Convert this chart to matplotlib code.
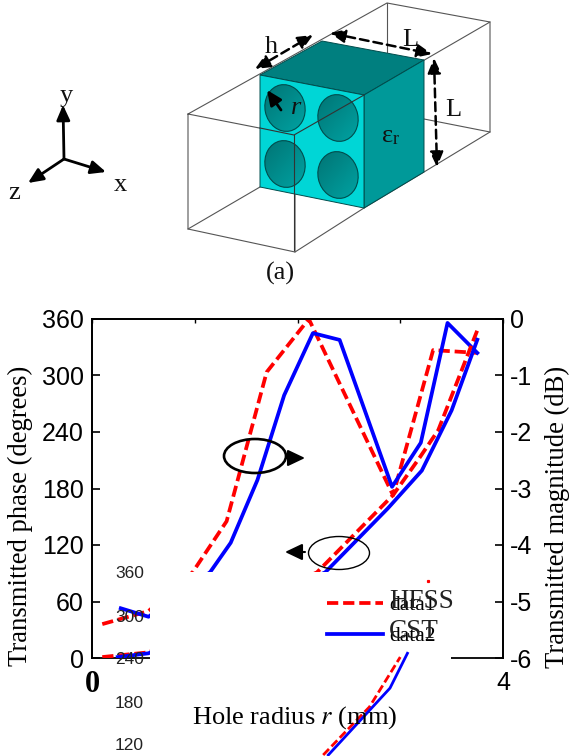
import numpy as np
import matplotlib
matplotlib.use('Agg')
import matplotlib.pyplot as plt
from matplotlib.colors import LinearSegmentedColormap
from matplotlib.patches import Ellipse, Polygon, Rectangle, FancyArrowPatch
from matplotlib.lines import Line2D

SERIF = 'Liberation Serif'
SANS = 'Liberation Sans'
W, H = 572, 756

# magnitude curves (hole radius mm, dB)
mag_hfss_r = [0.10, 0.55, 0.98, 1.31, 1.70, 2.11, 2.93, 3.32, 3.75]
mag_hfss_db = [-5.40, -5.17, -4.48, -3.58, -0.94, 0.0, -3.12, -0.55, -0.60]
mag_cst_r = [0.28, 0.55, 1.15, 1.35, 1.61, 1.87, 2.15, 2.41, 2.92, 3.20, 3.46, 3.75]
mag_cst_db = [-5.12, -5.27, -4.48, -3.96, -2.85, -1.35, -0.25, -0.37, -2.97, -2.19, -0.07, -0.60]

# phase curves (hole radius mm, degrees)
ph_hfss_r = [0.10, 0.55, 2.19, 2.93, 3.19, 3.37, 3.75]
ph_hfss_deg = [1, 6, 91, 173, 213, 242, 348]
ph_cst_r = [0.25, 0.55, 2.27, 2.88, 3.21, 3.50, 3.75]
ph_cst_deg = [1, 5, 91, 159, 199, 263, 338]

# curve tails of the next panel, showing through below the axis
tail_hfss_r = [2.25, 2.70, 3.00]
tail_hfss_deg = [-103, -52, 1]
tail_cst_r = [2.30, 2.90, 3.07]
tail_cst_deg = [-103, -32, 5]

phase_ticks = [0, 60, 120, 180, 240, 300, 360]
mag_ticks = [0, -1, -2, -3, -4, -5, -6]
mag_labels = ['0', '-1', '-2', '-3', '-4', '-5', '-6']
radius_ticks = [0, 1, 2, 3, 4]
radius_labels = ['0', '', '', '', '4']
stray_labels = ['360', '300', '240', '180', '120']
stray_y = [574, 617, 660, 704, 745]

# cube sketch, in picture pixels
cube_top = [(260, 75), (322, 41), (424, 60), (364, 95)]
cube_right = [(364, 95), (424, 60), (424, 172), (364, 208)]
cube_front = [(260, 75), (364, 95), (364, 208), (260, 187)]
holes = [(285, 108), (338, 118), (285, 164), (338, 175)]
box_lines = [
    [(188, 114), (387, 3), (490, 22), (295, 135), (188, 114), (188, 229), (295, 252), (295, 135)],
    [(188, 229), (260, 187)], [(295, 252), (364, 208)], [(364, 208), (424, 172), (490, 132), (490, 22)],
    [(387, 3), (387, 52)], [(424, 119), (490, 132)],
]
solid_arrows = [((64, 159), (63, 105)), ((64, 159), (28, 183)), ((64, 159), (106, 172)), ((281, 110), (267, 90))]
dashed_arrows = [((255, 69), (313, 35)), ((330, 33), (432, 54)), ((434, 58), (437, 167))]
sketch_text = [('y', 66, 96, 'normal'), ('x', 120, 185, 'normal'), ('z', 14, 193, 'normal'), ('(a)', 280, 273, 'normal'),
               ('h', 271, 47, 'normal'), ('L', 410, 40, 'normal'), ('L', 453, 110, 'normal'), ('r', 296, 108, 'italic')]

fig = plt.figure(figsize=(W / 100, H / 100), dpi=100)
ax2 = fig.add_axes([92 / W, 1 - 658 / H, 411 / W, 339 / H], zorder=1)
ax1 = fig.add_axes([92 / W, 1 - 658 / H, 411 / W, 339 / H], zorder=2)
ax1.patch.set_visible(False)

dash = (0, (3, 1.3))
ax2.plot(mag_hfss_r, mag_hfss_db, color='#ff0000', lw=2.7, ls=dash, zorder=3)
ax2.plot(mag_cst_r, mag_cst_db, color='#0000ff', lw=2.7, zorder=3)
ax1.plot(ph_hfss_r, ph_hfss_deg, color='#ff0000', lw=2.7, ls=dash, zorder=3)
ax1.plot(ph_cst_r, ph_cst_deg, color='#0000ff', lw=2.7, zorder=3)

# white patch hiding the middle of the plot, as in the original
ax1.add_patch(Rectangle((0.56, -4), 2.93, 95, fc='white', ec='none', zorder=5, clip_on=False))
ax1.plot(tail_hfss_r, tail_hfss_deg, color='#ff0000', lw=2, ls=dash, zorder=6, clip_on=False)
ax1.plot(tail_cst_r, tail_cst_deg, color='#0000ff', lw=2, zorder=6, clip_on=False)
ax1.plot([3.27], [82], 's', color='#ff0000', ms=1.3, zorder=6)

ax1.set_xlim(0, 4)
ax1.set_ylim(0, 360)
ax2.set_xlim(0, 4)
ax2.set_ylim(-6, 0)
ax1.set_yticks(phase_ticks)
ax2.yaxis.tick_right()
ax2.yaxis.set_label_position('right')
ax2.set_yticks(mag_ticks, mag_labels)
ax1.set_xticks(radius_ticks, radius_labels)
ax2.set_xticks([])
ax1.tick_params(axis='y', direction='in', length=6, width=1.2, labelsize=18, pad=6, labelfontfamily=SANS)
ax2.tick_params(axis='y', direction='in', length=6, width=1.2, labelsize=18, pad=5, labelfontfamily=SANS)
ax1.tick_params(axis='x', direction='in', top=True, bottom=False, length=3, width=1, pad=9)
labs = ax1.get_xticklabels()
labs[0].set(family=SERIF, fontweight='bold', fontsize=22)
labs[4].set(family=SANS, fontsize=18)
for a in (ax1, ax2):
    for s in a.spines.values():
        s.set_linewidth(1.3)
ax2.spines['bottom'].set_visible(False)

ax1.set_ylabel('Transmitted phase (degrees)', family=SERIF, fontsize=19.2)
ax1.yaxis.set_label_coords(-0.144, 0.419)
ax2.set_ylabel('Transmitted magnitude (dB)', family=SERIF, fontsize=19.2, rotation=90)
ax2.yaxis.set_label_coords(1.103, 0.415)
fig.text(295 / W, 1 - 718 / H, 'Hole radius $r$ (mm)', family=SERIF, fontsize=19, ha='center', va='center',
         math_fontfamily='stix', zorder=8)

# legend drawn by the axes, names written over it
red_h = Line2D([], [], color='#ff0000', lw=2.7, ls=dash)
blue_h = Line2D([], [], color='#0000ff', lw=2.7)
leg = ax1.legend([red_h, blue_h], ['data1', 'data2'], frameon=False, loc='upper left',
                 bbox_to_anchor=(0.572, 0.185), prop={'family': SERIF, 'size': 15.5}, handlelength=2.6,
                 handletextpad=0.3, labelspacing=0.5, borderpad=0, borderaxespad=0)
leg.set_zorder(7)

# overlay in picture pixels for the sketch and annotations
ov = fig.add_axes([0, 0, 1, 1], zorder=3)
ov.set_xlim(0, W)
ov.set_ylim(H, 0)
ov.axis('off')

ov.text(389, 601, 'HFSS', family=SERIF, fontsize=19.5, va='center', color='#222222')
ov.text(389, 631, 'CST', family=SERIF, fontsize=19.5, va='center', color='#222222')
for lab, y in zip(stray_labels, stray_y):
    ov.text(144, y, lab, family=SANS, fontsize=12.5, ha='right', va='center', color='#222222')

# ellipses and arrows on the curves
ov.add_patch(Ellipse((255, 456), 62, 34, fc='none', ec='black', lw=1.9))
ov.add_patch(Ellipse((339, 553), 61, 33, fc='none', ec='black', lw=1))
head = '-|>,head_width=0.5,head_length=1.05'
ov.annotate('', xy=(305, 458), xytext=(287, 458), arrowprops=dict(arrowstyle=head, color='black', lw=1.5, shrinkA=0, shrinkB=0))
ov.annotate('', xy=(285, 552), xytext=(305, 552), arrowprops=dict(arrowstyle=head, color='black', lw=1.5, shrinkA=0, shrinkB=0))

# wire box and cube
for seg in box_lines:
    xs, ys = zip(*seg)
    ov.plot(xs, ys, color='#555555', lw=0.8, zorder=1)
ov.add_patch(Polygon(cube_top, fc='#007f7f', ec='#004c4c', lw=0.7, zorder=2))
ov.add_patch(Polygon(cube_right, fc='#009999', ec='#004c4c', lw=0.7, zorder=2))
ov.add_patch(Polygon(cube_front, fc='#00d6d6', ec='#004c4c', lw=0.7, zorder=2))
grad = np.linspace(0, 1, 64)[None, :] + np.linspace(0, 1, 64)[:, None]
cmap = LinearSegmentedColormap.from_list('hole', ['#006f6f', '#00a8a8'])
for cx, cy in holes:
    e = Ellipse((cx, cy), 40, 47, angle=-12, fc='none', ec='#004c4c', lw=0.8, zorder=4)
    ov.add_patch(e)
    im = ov.imshow(grad, extent=(cx - 26, cx + 26, cy + 28, cy - 28), cmap=cmap, aspect='auto', zorder=3)
    im.set_clip_path(e)
ov.set_xlim(0, W)
ov.set_ylim(H, 0)
for seg in [[(260, 128), (294, 135), (364, 95)], [(294, 135), (294, 250)]]:
    xs, ys = zip(*seg)
    ov.plot(xs, ys, color='#333333', lw=0.8, zorder=5)
for p, q in solid_arrows:
    ov.add_patch(FancyArrowPatch(p, q, arrowstyle='-|>,head_width=4,head_length=9', color='black', lw=2, shrinkA=0, shrinkB=0, zorder=6))
for p, q in dashed_arrows:
    ov.add_patch(FancyArrowPatch(p, q, arrowstyle='<|-|>,head_width=4,head_length=9', color='black', lw=1.8, ls=(0, (3.5, 2)), shrinkA=0, shrinkB=0, zorder=6))
for txt, x, y, style in sketch_text:
    ov.text(x, y, txt, family=SERIF, style=style, fontsize=19, ha='center', va='center', zorder=7, color='#111111')
ov.text(382, 136, '\u03b5', family=SERIF, fontsize=19, ha='left', va='center', zorder=7, color='#111111')
ov.text(393, 140, 'r', family=SERIF, fontsize=13, ha='left', va='center', zorder=7, color='#111111')

fig.savefig('out.png', dpi=100)
